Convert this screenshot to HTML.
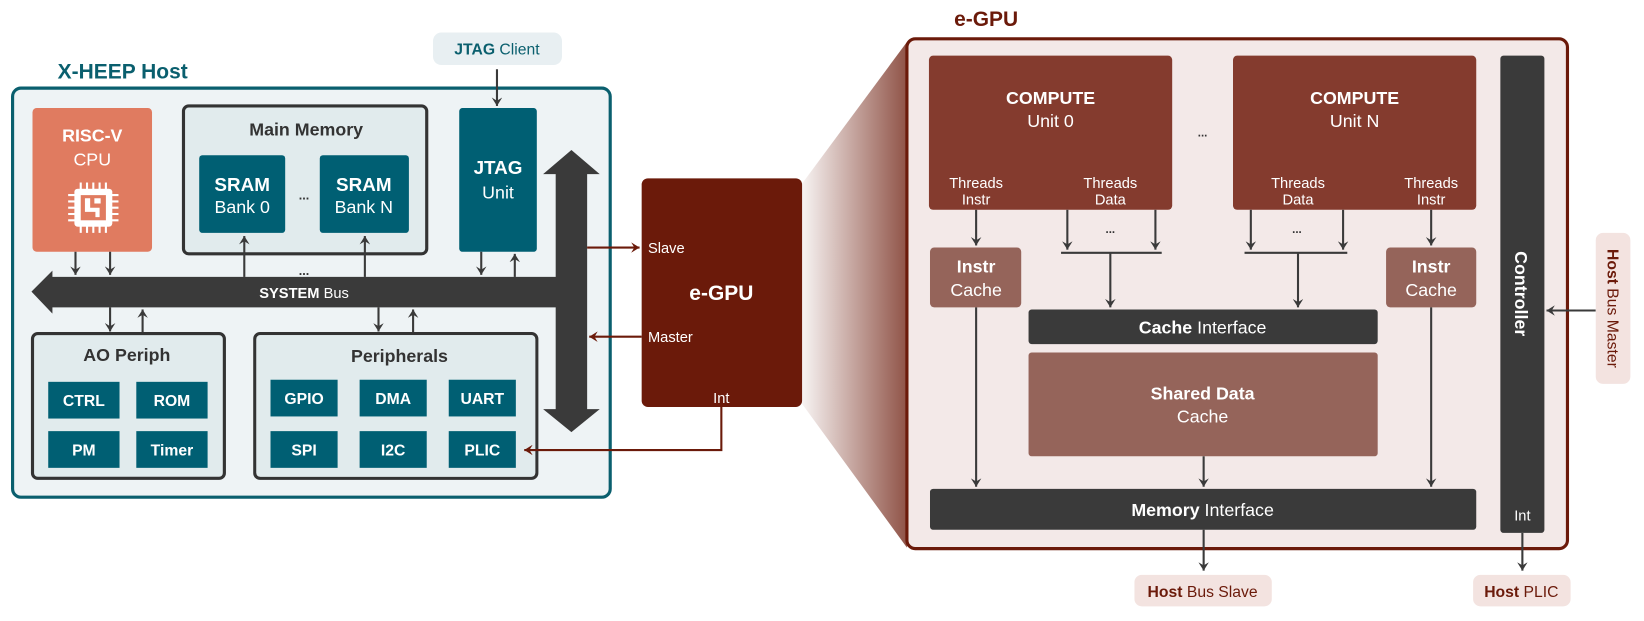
<!DOCTYPE html>
<html><head><meta charset="utf-8"><style>
html,body{margin:0;padding:0;background:#fff;}
svg{display:block;font-family:"Liberation Sans",sans-serif;}
</style></head><body>
<svg width="1644" height="621" viewBox="0 0 1568 592" preserveAspectRatio="none" xmlns="http://www.w3.org/2000/svg">
<defs>
<marker id="ad" markerWidth="10" markerHeight="10" refX="8" refY="5" orient="auto" markerUnits="userSpaceOnUse"><path d="M0,0 L8,5 L0,10 L3,5 Z" fill="#3a3a3a"/></marker>
<marker id="ar" markerWidth="10" markerHeight="10" refX="8" refY="5" orient="auto" markerUnits="userSpaceOnUse"><path d="M0,0 L8,5 L0,10 L3,5 Z" fill="#6b1a0a"/></marker>
<linearGradient id="g" x1="0" x2="1" y1="0" y2="0"><stop offset="0" stop-color="#6b1a0a" stop-opacity="0.05"/><stop offset="1" stop-color="#6b1a0a" stop-opacity="0.75"/></linearGradient>
</defs>
<!-- Host -->
<text x="55" y="75" font-size="20" font-weight="bold" fill="#0a5f6e">X-HEEP Host</text>
<rect x="12" y="84" width="570" height="390" rx="8" fill="#eef3f5" stroke="#0a5f6e" stroke-width="3"/>
<rect x="413" y="31" width="123" height="31" rx="8" fill="#e8eff2"/>
<text x="474" y="52" font-size="15" text-anchor="middle" fill="#0a5f6e"><tspan font-weight="bold">JTAG</tspan> Client</text>
<line x1="474" y1="66" x2="474" y2="101" stroke="#3a3a3a" stroke-width="2" marker-end="url(#ad)"/>
<rect x="31" y="103" width="114" height="137" rx="4" fill="#e07b60"/>
<text x="88" y="135" font-size="17" font-weight="bold" fill="#fff" text-anchor="middle">RISC-V</text>
<text x="88" y="158" font-size="17" fill="#fff" text-anchor="middle">CPU</text>
<g fill="#fff"><rect x="71" y="180" width="36" height="36" rx="3"/><rect x="77" y="186" width="24" height="24" fill="#e07b60"/><path d="M81 190h6v8h8v8h-4v-4h-8v-8h-2z" fill="#fff"/>
<g stroke="#fff" stroke-width="2"><line x1="77" y1="174" x2="77" y2="222"/><line x1="83" y1="174" x2="83" y2="222"/><line x1="89" y1="174" x2="89" y2="222"/><line x1="95" y1="174" x2="95" y2="222"/><line x1="101" y1="174" x2="101" y2="222"/><line x1="65" y1="186" x2="113" y2="186"/><line x1="65" y1="192" x2="113" y2="192"/><line x1="65" y1="198" x2="113" y2="198"/><line x1="65" y1="204" x2="113" y2="204"/><line x1="65" y1="210" x2="113" y2="210"/></g>
<rect x="71" y="180" width="36" height="36" rx="3"/><rect x="77" y="186" width="24" height="24" fill="#e07b60"/><path d="M81 189h5v9h9v9h-4v-5h-10z" fill="#fff"/><path d="M90 189h6v5h-6z" fill="#fff"/></g>
<rect x="175" y="101" width="232" height="141" rx="5" fill="#e1ebed" stroke="#333" stroke-width="3"/>
<text x="292" y="129" font-size="17" font-weight="bold" fill="#333" text-anchor="middle">Main Memory</text>
<rect x="190" y="148" width="82" height="74" rx="3" fill="#005f73"/><rect x="305" y="148" width="85" height="74" rx="3" fill="#005f73"/>
<text x="231" y="182" font-size="18" font-weight="bold" fill="#fff" text-anchor="middle">SRAM</text><text x="231" y="203" font-size="17" fill="#fff" text-anchor="middle">Bank 0</text>
<text x="347" y="182" font-size="18" font-weight="bold" fill="#fff" text-anchor="middle">SRAM</text><text x="347" y="203" font-size="17" fill="#fff" text-anchor="middle">Bank N</text>
<text x="290" y="190" font-size="12" font-weight="bold" fill="#333" text-anchor="middle">...</text>
<text x="290" y="262" font-size="12" font-weight="bold" fill="#333" text-anchor="middle">...</text>
<rect x="438" y="103" width="74" height="137" rx="3" fill="#005f73"/>
<text x="475" y="166" font-size="18" font-weight="bold" fill="#fff" text-anchor="middle">JTAG</text><text x="475" y="189" font-size="17" fill="#fff" text-anchor="middle">Unit</text>
<!-- bus -->
<path d="M30 278 L50 258 L50 264 L530 264 L530 166 L518 166 L545 143 L572 166 L560 166 L560 390 L572 390 L545 412 L518 390 L530 390 L530 293 L50 293 L50 299 Z" fill="#3a3a3a"/>
<text x="290" y="284" font-size="14" fill="#fff" text-anchor="middle"><tspan font-weight="bold">SYSTEM</tspan> Bus</text>
<g stroke="#3a3a3a" stroke-width="2" fill="none">
<line x1="72" y1="240" x2="72" y2="262" marker-end="url(#ad)"/><line x1="105" y1="240" x2="105" y2="262" marker-end="url(#ad)"/>
<line x1="233" y1="264" x2="233" y2="225" marker-end="url(#ad)"/><line x1="348" y1="264" x2="348" y2="225" marker-end="url(#ad)"/>
<line x1="459" y1="240" x2="459" y2="262" marker-end="url(#ad)"/><line x1="491" y1="264" x2="491" y2="242" marker-end="url(#ad)"/>
<line x1="105" y1="293" x2="105" y2="316" marker-end="url(#ad)"/><line x1="136" y1="318" x2="136" y2="295" marker-end="url(#ad)"/>
<line x1="361" y1="293" x2="361" y2="316" marker-end="url(#ad)"/><line x1="394" y1="318" x2="394" y2="295" marker-end="url(#ad)"/>
</g>
<rect x="31" y="318" width="183" height="138" rx="5" fill="#e1ebed" stroke="#333" stroke-width="3"/>
<text x="121" y="344" font-size="17" font-weight="bold" fill="#333" text-anchor="middle">AO Periph</text>
<g fill="#005f73"><rect x="46" y="364" width="68" height="35"/><rect x="130" y="364" width="68" height="35"/><rect x="46" y="411" width="68" height="35"/><rect x="130" y="411" width="68" height="35"/>
<rect x="258" y="362" width="64" height="35"/><rect x="343" y="362" width="64" height="35"/><rect x="428" y="362" width="64" height="35"/><rect x="258" y="411" width="64" height="35"/><rect x="343" y="411" width="64" height="35"/><rect x="428" y="411" width="64" height="35"/></g>
<rect x="243" y="318" width="269" height="138" rx="5" fill="none" stroke="#333" stroke-width="3"/>
<rect x="244.5" y="319.5" width="266" height="135" rx="4" fill="#e1ebed"/>
<g fill="#005f73"><rect x="258" y="362" width="64" height="35"/><rect x="343" y="362" width="64" height="35"/><rect x="428" y="362" width="64" height="35"/><rect x="258" y="411" width="64" height="35"/><rect x="343" y="411" width="64" height="35"/><rect x="428" y="411" width="64" height="35"/></g>
<text x="381" y="345" font-size="17" font-weight="bold" fill="#333" text-anchor="middle">Peripherals</text>
<g font-size="15" font-weight="bold" fill="#fff" text-anchor="middle">
<text x="80" y="387">CTRL</text><text x="164" y="387">ROM</text><text x="80" y="434">PM</text><text x="164" y="434">Timer</text>
<text x="290" y="385">GPIO</text><text x="375" y="385">DMA</text><text x="460" y="385">UART</text>
<text x="290" y="434">SPI</text><text x="375" y="434">I2C</text><text x="460" y="434">PLIC</text></g>
<!-- small egpu -->
<path d="M765 175 L865 40 L865 522 L765 385 Z" fill="url(#g)"/>
<rect x="612" y="170" width="153" height="218" rx="6" fill="#6b1a0a"/>
<text x="688" y="286" font-size="20" font-weight="bold" fill="#fff" text-anchor="middle">e-GPU</text>
<text x="618" y="241" font-size="14" fill="#fff">Slave</text>
<text x="618" y="326" font-size="14" fill="#fff">Master</text>
<text x="688" y="384" font-size="14" fill="#fff" text-anchor="middle">Int</text>
<g stroke="#6b1a0a" stroke-width="2" fill="none">
<line x1="560" y1="236" x2="610" y2="236" marker-end="url(#ar)"/>
<line x1="612" y1="321" x2="562" y2="321" marker-end="url(#ar)"/>
<polyline points="688,388 688,429 500,429" marker-end="url(#ar)"/></g>
<!-- big egpu -->
<text x="910" y="25" font-size="20" font-weight="bold" fill="#6b1a0a">e-GPU</text>
<rect x="865" y="37" width="630" height="486" rx="8" fill="#f3e9e8" stroke="#6b1a0a" stroke-width="3"/>
<rect x="886" y="53" width="232" height="147" rx="4" fill="#843b2e"/>
<rect x="1176" y="53" width="232" height="147" rx="4" fill="#843b2e"/>
<g fill="#fff" text-anchor="middle">
<text x="1002" y="99" font-size="17" font-weight="bold">COMPUTE</text><text x="1002" y="121" font-size="17">Unit 0</text>
<text x="1292" y="99" font-size="17" font-weight="bold">COMPUTE</text><text x="1292" y="121" font-size="17">Unit N</text>
<g font-size="14"><text x="931" y="179">Threads</text><text x="931" y="195">Instr</text><text x="1059" y="179">Threads</text><text x="1059" y="195">Data</text>
<text x="1238" y="179">Threads</text><text x="1238" y="195">Data</text><text x="1365" y="179">Threads</text><text x="1365" y="195">Instr</text></g></g>
<g font-size="11" font-weight="bold" fill="#333" text-anchor="middle"><text x="1147" y="130">...</text><text x="1059" y="222">...</text><text x="1237" y="222">...</text></g>
<rect x="1431" y="53" width="42" height="455" rx="3" fill="#3a3a3a"/>
<text transform="translate(1445,280) rotate(90)" font-size="17" font-weight="bold" fill="#fff" text-anchor="middle">Controller</text>
<text x="1452" y="496" font-size="14" fill="#fff" text-anchor="middle">Int</text>
<rect x="887" y="236" width="87" height="57" rx="4" fill="#95645a"/>
<rect x="1322" y="236" width="86" height="57" rx="4" fill="#95645a"/>
<g fill="#fff" text-anchor="middle"><text x="931" y="260" font-size="17" font-weight="bold">Instr</text><text x="931" y="282" font-size="17">Cache</text>
<text x="1365" y="260" font-size="17" font-weight="bold">Instr</text><text x="1365" y="282" font-size="17">Cache</text></g>
<rect x="981" y="295" width="333" height="33" rx="3" fill="#3a3a3a"/>
<text x="1147" y="318" font-size="17" fill="#fff" text-anchor="middle"><tspan font-weight="bold">Cache</tspan> Interface</text>
<rect x="981" y="336" width="333" height="99" rx="3" fill="#95645a"/>
<text x="1147" y="381" font-size="17" font-weight="bold" fill="#fff" text-anchor="middle">Shared Data</text>
<text x="1147" y="403" font-size="17" fill="#fff" text-anchor="middle">Cache</text>
<rect x="887" y="466" width="521" height="39" rx="3" fill="#3a3a3a"/>
<text x="1147" y="492" font-size="17" fill="#fff" text-anchor="middle"><tspan font-weight="bold">Memory</tspan> Interface</text>
<g stroke="#3a3a3a" stroke-width="2" fill="none">
<line x1="931" y1="200" x2="931" y2="234" marker-end="url(#ad)"/>
<line x1="1018" y1="200" x2="1018" y2="238" marker-end="url(#ad)"/><line x1="1102" y1="200" x2="1102" y2="238" marker-end="url(#ad)"/>
<line x1="1012" y1="241" x2="1108" y2="241"/><line x1="1059" y1="241" x2="1059" y2="293" marker-end="url(#ad)"/>
<line x1="1193" y1="200" x2="1193" y2="238" marker-end="url(#ad)"/><line x1="1281" y1="200" x2="1281" y2="238" marker-end="url(#ad)"/>
<line x1="1187" y1="241" x2="1285" y2="241"/><line x1="1238" y1="241" x2="1238" y2="293" marker-end="url(#ad)"/>
<line x1="1365" y1="200" x2="1365" y2="234" marker-end="url(#ad)"/>
<line x1="931" y1="293" x2="931" y2="464" marker-end="url(#ad)"/><line x1="1365" y1="293" x2="1365" y2="464" marker-end="url(#ad)"/>
<line x1="1148" y1="435" x2="1148" y2="464" marker-end="url(#ad)"/>
<line x1="1148" y1="505" x2="1148" y2="544" marker-end="url(#ad)"/>
<line x1="1452" y1="508" x2="1452" y2="544" marker-end="url(#ad)"/>
<line x1="1522" y1="296" x2="1475" y2="296" marker-end="url(#ad)"/>
</g>
<rect x="1082" y="548" width="131" height="30" rx="7" fill="#f3e3e0"/>
<text x="1147" y="569" font-size="15" fill="#6b1a0a" text-anchor="middle"><tspan font-weight="bold">Host</tspan> Bus Slave</text>
<rect x="1405" y="548" width="93" height="30" rx="7" fill="#f3e3e0"/>
<text x="1451" y="569" font-size="15" fill="#6b1a0a" text-anchor="middle"><tspan font-weight="bold">Host</tspan> PLIC</text>
<rect x="1522" y="222" width="33" height="144" rx="7" fill="#f3e3e0"/>
<text transform="translate(1533,294) rotate(90)" font-size="15" fill="#6b1a0a" text-anchor="middle"><tspan font-weight="bold">Host</tspan> Bus Master</text>
</svg>
</body></html>
